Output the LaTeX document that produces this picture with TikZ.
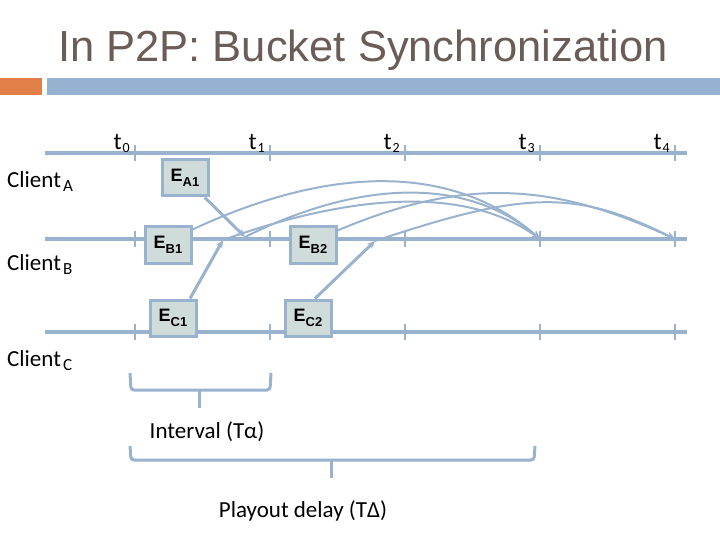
\documentclass[tikz,border=0pt]{standalone}
\usepackage{fontspec}
\setmainfont{Carlito}
\newfontfamily\arialfont{Liberation Sans}
\usetikzlibrary{arrows.meta}
\definecolor{slideblue}{RGB}{149,179,209}
\definecolor{lineblue}{RGB}{153,178,206}
\definecolor{slideorange}{RGB}{224,127,72}
\definecolor{titlegrey}{RGB}{106,92,86}
\definecolor{boxfill}{RGB}{208,220,218}
\tikzset{>={Stealth[length=8pt,width=7pt]}}
\tikzset{
  event/.style={draw=lineblue, line width=3pt, fill=boxfill, minimum width=46pt,
    minimum height=36pt, inner sep=0pt, font=\arialfont\bfseries},
  timeline/.style={lineblue, line width=4.5pt},
  tickmark/.style={lineblue, line width=2.5pt},
  send/.style={lineblue, line width=3pt, ->},
  forward/.style={lineblue, line width=2pt, ->},
  bracket/.style={lineblue, line width=3pt, rounded corners=3pt},
  label23/.style={font=\fontsize{23}{23}\selectfont, inner sep=0pt}
}
\newcommand{\evlbl}[2]{\fontsize{18}{18}\selectfont #1\raisebox{-5pt}{\fontsize{13}{13}\selectfont #2}}
\newcommand{\clientlbl}[1]{Client\hspace{2pt}\raisebox{-4pt}{\fontsize{17}{17}\selectfont #1}}
\newcommand{\ticklbl}[1]{t\hspace{1pt}\raisebox{-3pt}{\fontsize{14}{14}\selectfont #1}}

\begin{document}
\begin{tikzpicture}[x=1pt,y=-1pt]
    \useasboundingbox (0,0) rectangle (720,540);
    % title bar
    \node[anchor=base west, inner sep=0pt, text=titlegrey,
      font=\arialfont\fontsize{43.5}{44}\selectfont] (title) at (58,62) {In P2P: Bucket Synchronization};
    \fill[slideorange] (0,78) rectangle (42,95);
    \fill[slideblue] (47,78) rectangle (720,95);
    % time lines
    \foreach \cl/\y in {a/153, b/239, c/332} {
    \draw[timeline] (45,\y) -- (687,\y);
    \foreach \i/\x in {0/135,1/270,2/405,3/540,4/675}
    \draw[tickmark] (\x,\y-8) -- coordinate (\cl\i) (\x,\y+8);
    }
    \foreach \i in {0,...,4}
    \node[label23, anchor=base east, font=\fontsize{24}{24}\selectfont] (t\i) at ([xshift=-5pt,yshift=3pt]a\i) {\ticklbl{\i}};
    \node[label23, anchor=base west] (clientA) at (7,188) {\clientlbl{A}};
    \node[label23, anchor=base west] (clientB) at (7,270) {\clientlbl{B}};
    \node[label23, anchor=base west] (clientC) at (7,366) {\clientlbl{C}};
    % events
    \node[event] (EA1) at (185,178) {\evlbl{E}{A1}};
    \node[event] (EB1) at (168,245) {\evlbl{E}{B1}};
    \node[event] (EB2) at (313,245) {\evlbl{E}{B2}};
    \node[event] (EC1) at (173,318) {\evlbl{E}{C1}};
    \node[event] (EC2) at (308,318) {\evlbl{E}{C2}};
    \coordinate (rA1) at (245,237);
    \coordinate (rC1) at (223,240);
    \coordinate (rC2) at (375,241);
    \draw[send] (EA1) -- (rA1);
    \draw[send] ([xshift=17pt]EC1.north) -- (rC1);
    \draw[send] ([xshift=7pt]EC2.north) -- (rC2);
    % forwarding to playout
    \draw[forward] ([yshift=-4pt]EB1.north east) .. controls +(150,-70) and +(-80,-70) .. (b3);
    \draw[forward] (rA1) .. controls +(120,-60) and +(-70,-60) .. (b3);
    \draw[forward] (rC1) .. controls +(140,-50) and +(-70,-50) .. (b3);
    \draw[forward] ([yshift=-5pt]EB2.north east) .. controls +(130,-55) and +(-120,-55) .. (b4);
    \draw[forward] (rC2) .. controls +(150,-50) and +(-100,-50) .. (b4);
    % brackets
    \draw[bracket] (130,373) -- (131,390) -- (270,390) -- (271,373);
    \draw[bracket] (199,390) -- (199,408);
    \node[label23] (interval) at (207,432) {Interval (Tα)};
    \draw[bracket] (130,446) -- (131,460) -- (534,460) -- (535,446);
    \draw[bracket] (331,460) -- (331,478);
    \node[label23] (playout) at (303,511) {Playout delay (TΔ)};
\end{tikzpicture}
\end{document}
